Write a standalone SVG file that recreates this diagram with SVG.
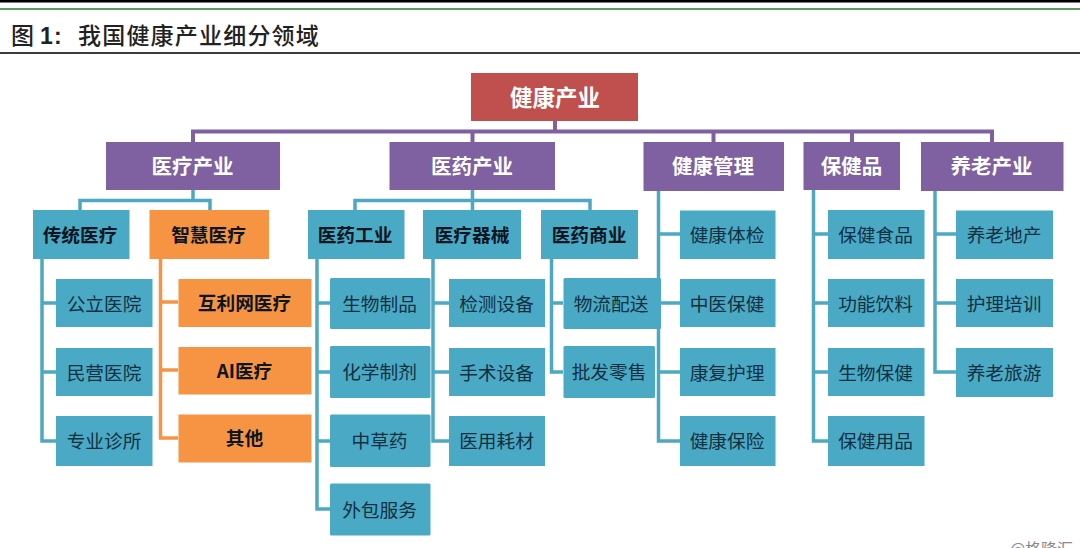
<svg xmlns="http://www.w3.org/2000/svg" width="1080" height="548" viewBox="0 0 1080 548">
<style>
text{font-family:"Noto Sans CJK SC","Noto Sans",sans-serif;text-anchor:middle;dominant-baseline:central;transform:translate(-0.5px,-1px)}
text.title{text-anchor:start;dominant-baseline:auto;font-size:23px;font-weight:500;letter-spacing:1.2px;fill:#222;font-family:"Noto Sans CJK SC",sans-serif;transform:none}
text.num{font-family:"Liberation Sans",sans-serif;font-weight:700;font-size:23px}
.red{fill:#C0504D}.pur{fill:#7F60A0}.tea{fill:#4AA9C5}.ora{fill:#F79443}
.w1{fill:#fff;font-weight:700;font-size:22.5px}
.w2{fill:#fff;font-weight:700;font-size:20.5px}
.b{fill:#0c1620;font-weight:700;font-size:18.7px}
.l{fill:#12303f;font-size:18.7px}
.pl{fill:none;stroke:#7F60A0;stroke-width:4}
.tl{fill:none;stroke:#4FA8C2;stroke-width:3.5}
.ol{fill:none;stroke:#F79443;stroke-width:3.5}
</style>
<rect width="1080" height="548" fill="#fff"/>
<g id="header">
<rect x="0" y="0" width="1080" height="2.5" fill="#000"/>
<rect x="0" y="8" width="1080" height="2" fill="#5f9a5f"/>
<rect x="0" y="52" width="1080" height="2" fill="#3c3c3c"/>
<text class="title" x="11" y="44">图</text>
<text class="title num" x="40" y="44">1:</text>
<text class="title" x="78" y="44">我国健康产业细分领域</text>
</g>
<g id="connectors">
<path class="pl" d="M555 121V131.5M193 142V131.5H992V142M472.5 131.5V142M713.5 131.5V142M852 131.5V142"/>
<path class="tl" d="M193 190V200.5M80 210V200.5H210V210"/>
<path class="tl" d="M472.5 190V200.5M355 210V200.5H590V210M472.5 200.5V210"/>
<path class="tl" d="M42 259V441H56M42 303H56M42 372H56"/>
<path class="ol" d="M160.5 259V438H178M160.5 302H178M160.5 370H178"/>
<path class="tl" d="M317 259V509H330M317 303H330M317 372H330M317 441H330"/>
<path class="tl" d="M433 259V441H449M433 303H449M433 372H449"/>
<path class="tl" d="M551.5 259V372H563M551.5 303H563"/>
<path class="tl" d="M658.5 191V441H680M658.5 234H680M658.5 303H680M658.5 372H680"/>
<path class="tl" d="M813.5 190V441H828M813.5 234H828M813.5 303H828M813.5 372H828"/>
<path class="tl" d="M935 191V372H956M935 234H956M935 303H956"/>
</g>
<g id="n-root"><rect class="red" x="471" y="73" width="167" height="48"/><text class="w1" x="555.500" y="97">健康产业</text></g>
<g id="n-yiliao"><rect class="pur" x="106" y="142" width="174" height="48"/><text class="w2" x="193" y="166">医疗产业</text></g>
<g id="n-yiyao"><rect class="pur" x="389.5" y="142" width="165.5" height="48"/><text class="w2" x="472.5" y="166">医药产业</text></g>
<g id="n-guanli"><rect class="pur" x="643.5" y="142" width="140.5" height="49"/><text class="w2" x="713.5" y="166">健康管理</text></g>
<g id="n-baojianpin"><rect class="pur" x="803.5" y="142" width="96.5" height="48"/><text class="w2" x="852" y="166">保健品</text></g>
<g id="n-yanglao"><rect class="pur" x="921" y="142" width="142.5" height="49"/><text class="w2" x="992" y="166">养老产业</text></g>
<g id="n-chuantong"><rect class="tea" x="33" y="210" width="96.5" height="49"/><text class="b" x="80.5" y="234">传统医疗</text></g>
<g id="n-zhihui"><rect class="ora" x="149.5" y="210" width="119.5" height="49"/><text class="b" x="209" y="234">智慧医疗</text></g>
<g id="n-gongye"><rect class="tea" x="308" y="210" width="96.5" height="49"/><text class="b" x="355.5" y="234">医药工业</text></g>
<g id="n-qixie"><rect class="tea" x="423" y="210" width="98" height="49"/><text class="b" x="472.500" y="234">医疗器械</text></g>
<g id="n-shangye"><rect class="tea" x="541" y="210" width="97" height="49"/><text class="b" x="589.5" y="234">医药商业</text></g>
<g id="n-gongli"><rect class="tea" x="56" y="279" width="96.5" height="48"/><text class="l" x="104.5" y="303">公立医院</text></g>
<g id="n-minying"><rect class="tea" x="56" y="348" width="96.5" height="48"/><text class="l" x="104.5" y="372">民营医院</text></g>
<g id="n-zhensuo"><rect class="tea" x="56" y="416" width="96.5" height="50"/><text class="l" x="104.5" y="440.5">专业诊所</text></g>
<g id="n-hulianwang"><rect class="ora" x="178.5" y="279" width="133" height="48"/><text class="b" x="245" y="302">互利网医疗</text></g>
<g id="n-ai"><rect class="ora" x="178.5" y="347" width="133" height="47.500"/><text class="b" x="245" y="370">AI医疗</text></g>
<g id="n-qita"><rect class="ora" x="178.5" y="414.500" width="133" height="48"/><text class="b" x="245" y="437.500">其他</text></g>
<g id="n-shengwu"><rect class="tea" x="330" y="278" width="100.500" height="51" rx="1.500"/><text class="l" x="380" y="303">生物制品</text></g>
<g id="n-huaxue"><rect class="tea" x="330" y="346" width="100.500" height="52" rx="1.500"/><text class="l" x="380" y="371.500">化学制剂</text></g>
<g id="n-zhongcaoyao"><rect class="tea" x="330" y="414.500" width="100.500" height="52.500" rx="1.500"/><text class="l" x="380" y="440.500">中草药</text></g>
<g id="n-waibao"><rect class="tea" x="330" y="483.500" width="100.500" height="52" rx="1.500"/><text class="l" x="380" y="509">外包服务</text></g>
<g id="n-jiance"><rect class="tea" x="449" y="279" width="96" height="48"/><text class="l" x="497" y="303">检测设备</text></g>
<g id="n-shoushu"><rect class="tea" x="449" y="348" width="96" height="48"/><text class="l" x="497" y="372">手术设备</text></g>
<g id="n-haocai"><rect class="tea" x="449" y="416" width="96" height="50"/><text class="l" x="497" y="440.500">医用耗材</text></g>
<g id="n-wuliu"><rect class="tea" x="563.500" y="278" width="97.500" height="51" rx="1.500"/><text class="l" x="611.500" y="303">物流配送</text></g>
<g id="n-pifa"><rect class="tea" x="563.500" y="346" width="91.500" height="52" rx="1.500"/><text class="l" x="609.500" y="371.500">批发零售</text></g>
<g id="n-tijian"><rect class="tea" x="680" y="210.500" width="95.500" height="48.500"/><text class="l" x="727.500" y="234">健康体检</text></g>
<g id="n-zhongyi"><rect class="tea" x="680" y="279" width="95.500" height="48"/><text class="l" x="727.500" y="303">中医保健</text></g>
<g id="n-kangfu"><rect class="tea" x="680" y="348" width="95.500" height="48"/><text class="l" x="727.500" y="372">康复护理</text></g>
<g id="n-baoxian"><rect class="tea" x="680" y="416" width="95.500" height="50"/><text class="l" x="727.500" y="440.500">健康保险</text></g>
<g id="n-shipin"><rect class="tea" x="828" y="210" width="96.500" height="49"/><text class="l" x="876" y="234">保健食品</text></g>
<g id="n-yinliao"><rect class="tea" x="828" y="279" width="96.500" height="48"/><text class="l" x="876" y="303">功能饮料</text></g>
<g id="n-shengwubj"><rect class="tea" x="828" y="348" width="96.500" height="48"/><text class="l" x="876" y="372">生物保健</text></g>
<g id="n-yongpin"><rect class="tea" x="828" y="416" width="96.500" height="50"/><text class="l" x="876" y="440.500">保健用品</text></g>
<g id="n-dichan"><rect class="tea" x="956" y="210.500" width="97" height="48.500"/><text class="l" x="1004.500" y="234">养老地产</text></g>
<g id="n-peixun"><rect class="tea" x="956" y="279" width="97" height="48"/><text class="l" x="1004.500" y="303">护理培训</text></g>
<g id="n-lvyou"><rect class="tea" x="956" y="348" width="97" height="49"/><text class="l" x="1004.500" y="372">养老旅游</text></g>
<text x="1042" y="549" font-size="16" fill="#8a8a8a">@格隆汇</text>
</svg>
